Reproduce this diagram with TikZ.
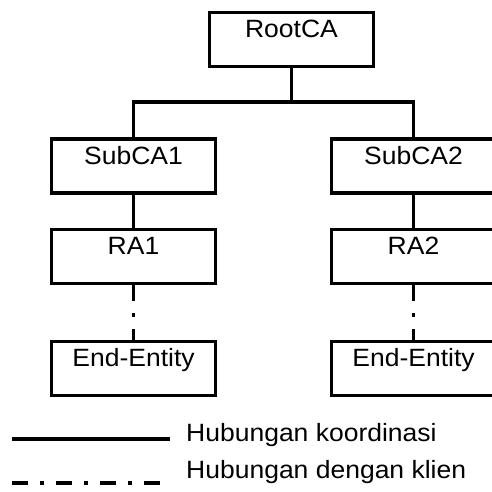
\documentclass[tikz,border=0pt]{standalone}
\usepackage{fontspec}
\setmainfont[FakeStretch=1.06]{Liberation Sans}
\usepackage{tikz}

\begin{document}
\begin{tikzpicture}[x=1pt,y=-1pt,
  kotak/.style={draw,line width=3.5pt,inner sep=0pt,minimum width=164pt,
    text height=25pt,text depth=29pt,font=\fontsize{25}{30}\selectfont},
  koord/.style={line width=3.5pt},
  klien/.style={line width=3.5pt,dash pattern=on 16pt off 12pt on 4pt off 12pt},
  ket/.style={anchor=base west,inner sep=0pt,font=\fontsize{25}{30}\selectfont}]
  \useasboundingbox (0,0) rectangle (491,492);

  % boxes
  \node[kotak] (root) at (291.5,39.5) {RootCA};
  \node[kotak] (sub1) at (133.5,166) {SubCA1};
  \node[kotak] (sub2) at (413.5,166) {SubCA2};
  \node[kotak] (ra1) at (133.5,256.5) {RA1};
  \node[kotak] (ra2) at (413.5,256.5) {RA2};
  \node[kotak] (ee1) at (133.5,368.5) {End-Entity};
  \node[kotak] (ee2) at (413.5,368.5) {End-Entity};

  % connectors
  \coordinate (bar) at (291.5,102);
  \draw[koord] (root.south) -- (bar);
  \draw[koord] (sub1.north) |- (bar) -| (sub2.north);
  \draw[koord] (sub1) -- (ra1);
  \draw[koord] (sub2) -- (ra2);
  \draw[klien] (ra1.south) -- (ee1.north);
  \draw[klien] (ra2.south) -- (ee2.north);

  % legend
  \coordinate (k1) at (12,439);
  \coordinate (k2) at (170,439);
  \draw[koord] (k1) -- (k2);
  \node[ket] (tkoord) at (186,441) {Hubungan koordinasi};
  \coordinate (l1) at (12,483);
  \coordinate (l2) at (160,483);
  \draw[klien] (l1) -- (l2);
  \node[ket] (tklien) at (186,478) {Hubungan dengan klien};
\end{tikzpicture}
\end{document}
